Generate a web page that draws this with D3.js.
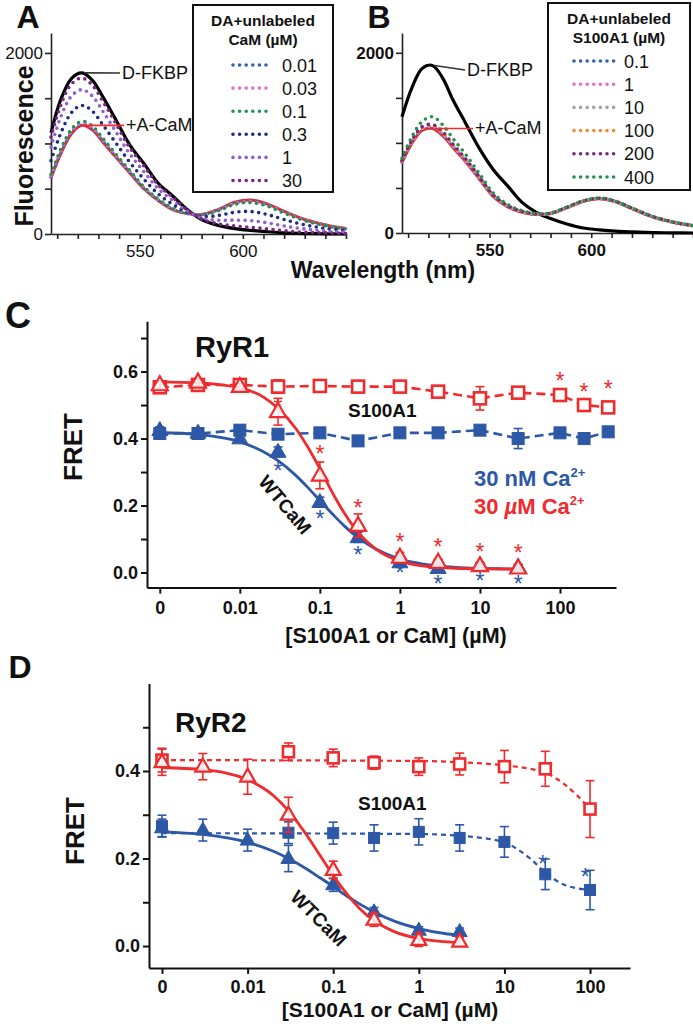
<!DOCTYPE html>
<html><head><meta charset="utf-8">
<script src="https://cdn.jsdelivr.net/npm/d3@7"></script>
<style>body{margin:0;background:#fff}svg{display:block;font-family:"Liberation Sans",Arial,Helvetica,sans-serif}</style>
</head><body><svg id="c" width="693" height="1026"></svg>
<script>
// ---------------- DATA ----------------
const WL = [507,512,517,522,527,532,538,545,552,559,566,573,580,588,596,604,612,620,630,640,650];
// Panel A
const A_DFKBP = [1120,1500,1720,1780,1700,1520,1280,990,780,560,420,270,160,95,60,40,25,12,5,2,0];
const A_ACAM  = [620,900,1110,1200,1150,1020,860,680,500,370,270,225,215,270,350,375,330,250,160,100,60];
const A_LABELS = ["0.01","0.03","0.1","0.3","1","30"];
const A_C001 = [630,912,1122,1212,1161,1030,868,686,506,374,273,226,214,266,344,368,324,245,157,98,59];
const A_C003 = [645,930,1140,1229,1178,1045,881,696,514,380,278,227,212,261,336,358,315,238,152,95,57];
const A_C01  = [660,948,1159,1246,1194,1060,894,705,522,385,282,229,211,256,327,348,306,231,148,92,55];
const A_C03  = [810,1128,1342,1420,1359,1210,1020,798,606,442,327,242,194,204,240,248,214,160,101,63,37];
const A_C1   = [960,1308,1525,1594,1524,1360,1146,891,690,499,372,256,178,151,153,147,123,88,55,33,19];
const A_C30  = [1070,1440,1659,1722,1645,1470,1238,959,752,541,405,265,166,113,89,74,56,36,19,12,6];
// Panel B
const B_DFKBP = [1290,1620,1830,1860,1720,1480,1230,940,700,520,340,230,160,100,55,35,20,12,5,2,0];
const B_ACAM  = [780,1000,1140,1160,1080,950,800,600,400,290,230,205,215,280,350,380,345,270,180,120,80];
const B_LABELS = ["0.1","1","10","100","200","400"];
const B_S01  = [785,1008,1150,1172,1092,960,808,606,405,294,233,207,216,281,352,382,347,272,181,121,80];
const B_S1   = [790,1015,1158,1180,1100,966,813,610,408,296,235,208,217,282,353,383,348,273,182,122,81];
const B_S10  = [795,1020,1165,1188,1107,972,818,614,411,298,236,209,218,283,354,384,349,274,183,122,81];
const B_S100 = [800,1028,1172,1196,1115,978,823,618,414,300,238,210,218,284,355,385,350,275,183,123,82];
const B_S200 = [805,1035,1182,1205,1124,986,830,623,418,302,240,211,219,285,356,386,351,276,184,123,82];
const B_S400 = [830,1075,1240,1290,1200,1050,880,660,440,315,248,215,221,287,358,388,353,278,185,124,82];

// Panel C (RyR1) ; concentration 0 is plotted at the "0" tick
const C_S_CONC = [0,0.003,0.01,0.03,0.1,0.3,1,3,10,30,100,200,400];
const C_S_RED  = [0.553,0.56,0.56,0.555,0.557,0.555,0.555,0.54,0.52,0.537,0.53,0.50,0.493];
const C_S_RED_ERR = [0.015,0.008,0.01,0.02,0.008,0.008,0.008,0.008,0.035,0.008,0.008,0.008,0.008];
const C_S_BLUE = [0.415,0.415,0.425,0.413,0.417,0.393,0.417,0.417,0.425,0.40,0.417,0.40,0.42];
const C_S_BLUE_ERR = [0.01,0.01,0.015,0.01,0.01,0.015,0.01,0.01,0.01,0.03,0.01,0.01,0.01];
const C_CAM_CONC = [0,0.003,0.01,0.03,0.1,0.3,1,3,10,30];
const C_CAM_BLUE = [0.425,0.417,0.40,0.36,0.21,0.105,0.03,0.013,0.02,0.017];
const C_CAM_BLUE_ERR = [0.01,0.008,0.01,0.015,0.015,0.015,0.01,0.008,0.008,0.008];
const C_CAM_RED = [0.56,0.568,0.555,0.48,0.29,0.14,0.045,0.03,0.02,0.013];
const C_CAM_RED_ERR = [0.01,0.01,0.01,0.04,0.04,0.035,0.015,0.01,0.01,0.01];
const C_FIT_CONC = [0.001,0.003,0.01,0.02,0.03,0.05,0.07,0.1,0.15,0.2,0.3,0.5,1,2,3,5,10,20,30];
const C_FIT_BLUE = [0.418,0.412,0.39,0.36,0.334,0.29,0.255,0.215,0.17,0.14,0.104,0.07,0.04,0.025,0.0195,0.0155,0.0126,0.011,0.0105];
const C_FIT_RED  = [0.569,0.566,0.551,0.523,0.49,0.43,0.376,0.31,0.23,0.179,0.12,0.07,0.034,0.0195,0.0155,0.0127,0.011,0.0105,0.0103];
// significance stars: [conc, FRET level]
const C_STAR_RED  = [[0.03,0.509],[0.1,0.366],[0.3,0.2075],[1,0.106],[3,0.091],[10,0.076],[30,0.073],[100,0.584],[200,0.551],[400,0.56]];
const C_STAR_BLUE = [[0.03,0.318],[0.1,0.172],[0.3,0.067],[1,0.013],[3,-0.022],[10,-0.013],[30,-0.022]];

// Panel D (RyR2)
const D_S_CONC = [0,0.03,0.1,0.3,1,3,10,30,100];
const D_S_RED  = [0.425,0.444,0.43,0.419,0.41,0.416,0.41,0.405,0.313];
const D_S_RED_ERR = [0.027,0.02,0.02,0.015,0.02,0.025,0.037,0.04,0.065];
const D_S_BLUE = [0.274,0.259,0.258,0.247,0.261,0.247,0.238,0.164,0.128];
const D_S_BLUE_ERR = [0.025,0.025,0.025,0.03,0.03,0.03,0.035,0.035,0.045];
const D_CAM_CONC = [0,0.003,0.01,0.03,0.1,0.3,1,3];
const D_CAM_BLUE = [0.27,0.265,0.242,0.20,0.14,0.078,0.036,0.033];
const D_CAM_BLUE_ERR = [0.02,0.025,0.025,0.03,0.015,0.01,0.008,0.008];
const D_CAM_RED = [0.42,0.41,0.387,0.30,0.174,0.06,0.014,0.01];
const D_CAM_RED_ERR = [0.03,0.03,0.04,0.04,0.02,0.015,0.015,0.01];
const D_FIT_CONC = [0.001,0.003,0.01,0.02,0.03,0.05,0.07,0.1,0.15,0.2,0.3,0.5,1,2,3];
const D_FIT_RED  = [0.408,0.403,0.38,0.344,0.309,0.251,0.2075,0.161,0.115,0.087,0.058,0.034,0.017,0.010,0.008];
const D_FIT_BLUE = [0.261,0.255,0.237,0.2165,0.20,0.175,0.156,0.136,0.112,0.097,0.078,0.058,0.04,0.0286,0.0245];
const D_SFIT_RED_CONC = [0.001,1,3,10,20,30,50,70,100];
const D_SFIT_RED = [0.425,0.423,0.42,0.413,0.405,0.396,0.37,0.345,0.313];
const D_SFIT_BLUE_CONC = [0.001,1,3,10,15,20,30,50,70,100];
const D_SFIT_BLUE = [0.258,0.256,0.252,0.237,0.218,0.2,0.168,0.14,0.132,0.128];
const D_STAR_BLUE = [[28,0.197],[88,0.167]];

const CONC_TICKS = [0.001,0.01,0.1,1,10,100];
const CONC_TICK_LABELS = ["0","0.01","0.1","1","10","100"];

// ---------------- STYLE ----------------
const RED = "#ef2b2d", BLUE = "#2d58a6";
const A_COLORS = ["#3161b5","#e46fc6","#1d9350","#1e2b7e","#8c62cc","#7b2282"];
const B_COLORS = ["#3161b5","#e46fc6","#a3a3a3","#f28a2a","#7b2282","#1d9350"];
const svg = d3.select("#c");
const FONT = '"Liberation Sans", Arial, sans-serif';

function txt(x, y, s, opt = {}) {
  const t = svg.append("text").attr("x", x).attr("y", y).text(s)
    .attr("font-size", opt.size || 16).attr("font-weight", opt.bold ? "bold" : "normal")
    .attr("fill", opt.fill || "#111").attr("text-anchor", opt.anchor || "start");
  if (opt.rotate !== undefined) t.attr("transform", `rotate(${opt.rotate},${x},${y})`);
  return t;
}

// ---------------- SPECTRA PANELS ----------------
function spectra(cfg) {
  const x = d3.scaleLinear().domain([507, 650]).range(cfg.xr);
  const y = d3.scaleLinear().domain([0, 2220]).range(cfg.yr);
  const g = svg.append("g");
  const line = d3.line().x((d, i) => x(WL[i])).y(d => y(d)).curve(d3.curveCatmullRom.alpha(0.5));
  const ay = g.append("g").attr("transform", `translate(${cfg.xr[0]},0)`)
    .call(d3.axisLeft(y).tickValues([0, 500, 1000, 1500, 2000]).tickSizeInner(6).tickSizeOuter(0).tickPadding(2)
      .tickFormat(d => (d === 0 || d === 2000) ? d : ""));
  const ax = g.append("g").attr("transform", `translate(0,${cfg.yr[0]})`)
    .call(d3.axisBottom(x).tickValues(d3.range(510, 651, 10)).tickSizeInner(5).tickSizeOuter(0).tickPadding(6)
      .tickFormat(d => (d === 550 || d === 600) ? d : ""));
  [ay, ax].forEach(a => {
    a.selectAll("path,line").attr("stroke", "#222").attr("stroke-width", 1.6);
    a.selectAll("text").attr("font-size", 17).attr("font-family", FONT)
      .attr("font-weight", cfg.boldTicks ? "bold" : "normal").attr("fill", "#111");
  });
  g.append("path").attr("d", line(cfg.donor)).attr("fill", "none").attr("stroke", "#000").attr("stroke-width", 3.2);
  g.append("path").attr("d", line(cfg.acam)).attr("fill", "none").attr("stroke", RED).attr("stroke-width", 3);
  cfg.series.forEach((s, i) => {
    g.append("path").attr("d", line(s)).attr("fill", "none").attr("stroke", cfg.colors[i])
      .attr("stroke-width", 3.6).attr("stroke-linecap", "round").attr("stroke-dasharray", "0 6.6");
  });
  const pk = d3.maxIndex(cfg.donor), pa = d3.maxIndex(cfg.acam);
  g.append("line").attr("x1", x(WL[pk]) + 2).attr("y1", y(cfg.donor[pk]))
    .attr("x2", cfg.dLab[0] - 2).attr("y2", cfg.dLab[1] - 6).attr("stroke", "#333").attr("stroke-width", 1.6);
  txt(cfg.dLab[0], cfg.dLab[1], "D-FKBP", { size: 18 });
  g.append("line").attr("x1", x(WL[pa]) + 2).attr("y1", y(cfg.acam[pa]))
    .attr("x2", cfg.aLab[0] - 2).attr("y2", y(cfg.acam[pa])).attr("stroke", RED).attr("stroke-width", 1.6);
  txt(cfg.aLab[0], cfg.aLab[1], "+A-CaM", { size: 18 });
  const L = cfg.legend;
  svg.append("rect").attr("x", L.x).attr("y", L.y).attr("width", L.w).attr("height", L.h)
    .attr("fill", "#fff").attr("stroke", "#111").attr("stroke-width", 2);
  txt(L.x + L.w / 2, L.y + 21, "DA+unlabeled", { size: 15.5, bold: true, anchor: "middle" });
  txt(L.x + L.w / 2, L.y + 40, L.title2, { size: 15.5, bold: true, anchor: "middle" });
  cfg.labels.forEach((lab, i) => {
    const yy = L.y0 + i * L.dy;
    svg.append("line").attr("x1", L.lx0).attr("x2", L.lx1).attr("y1", yy).attr("y2", yy)
      .attr("stroke", cfg.colors[i]).attr("stroke-width", 3.6).attr("stroke-linecap", "round").attr("stroke-dasharray", "0 6.6");
    txt(L.tx, yy + 6.5, lab, { size: 18 });
  });
}

spectra({
  xr: [51, 346], yr: [234, 33], donor: A_DFKBP, acam: A_ACAM,
  series: [A_C001, A_C003, A_C01, A_C03, A_C1, A_C30], colors: A_COLORS, labels: A_LABELS,
  dLab: [122, 79], aLab: [126, 131], boldTicks: false,
  legend: { x: 193, y: 5, w: 140, h: 187, title2: "CaM (µM)", y0: 65, dy: 23.1, lx0: 233, lx1: 272, tx: 282 }
});
spectra({
  xr: [402, 693], yr: [233, 33], donor: B_DFKBP, acam: B_ACAM,
  series: [B_S01, B_S1, B_S10, B_S100, B_S200, B_S400], colors: B_COLORS, labels: B_LABELS,
  dLab: [467, 76], aLab: [475, 134], boldTicks: true,
  legend: { x: 548, y: 3, w: 142, h: 187, title2: "S100A1 (µM)", y0: 61, dy: 23.2, lx0: 574, lx1: 614, tx: 624 }
});
txt(28, 28, "A", { size: 32, bold: true, anchor: "middle" });
txt(379, 28, "B", { size: 32, bold: true, anchor: "middle" });
txt(33, 146, "Fluorescence", { size: 25, bold: true, anchor: "middle", rotate: -90 });
txt(383, 278, "Wavelength (nm)", { size: 23, bold: true, anchor: "middle" });

// ---------------- FRET PANELS ----------------
function fretPanel(cfg) {
  const x = d3.scaleLog().domain(cfg.xd).range(cfg.xr);
  const y = d3.scaleLinear().domain(cfg.yd).range(cfg.yr);
  const cx = c => x(c === 0 ? 0.001 : c);
  const g = svg.append("g");
  const ay = g.append("g").attr("transform", `translate(${cfg.xr[0]},0)`)
    .call(d3.axisLeft(y).tickValues(cfg.yTicks).tickSizeInner(6).tickSizeOuter(0).tickPadding(3)
      .tickFormat(d => cfg.yLabels.includes(d) ? d.toFixed(1) : ""));
  const ax = g.append("g").attr("transform", `translate(0,${cfg.yr[0]})`)
    .call(d3.axisBottom(x).tickValues(CONC_TICKS).tickSizeInner(6).tickSizeOuter(0).tickPadding(cfg.xPad)
      .tickFormat((d, i) => CONC_TICK_LABELS[i]));
  [ay, ax].forEach(a => {
    a.selectAll("path,line").attr("stroke", "#111").attr("stroke-width", 2);
    a.selectAll("text").attr("font-size", 18).attr("font-weight", "bold").attr("font-family", FONT).attr("fill", "#111");
  });
  const lin = d3.line().x(d => cx(d[0])).y(d => y(d[1]));
  const smooth = d3.line().x(d => cx(d[0])).y(d => y(d[1])).curve(d3.curveMonotoneX);
  cfg.sLines.forEach(s => {
    g.append("path").attr("d", (s.smooth ? smooth : lin)(s.c.map((c, i) => [c, s.v[i]])))
      .attr("fill", "none").attr("stroke", s.color).attr("stroke-width", cfg.dashW).attr("stroke-dasharray", cfg.dash);
  });
  function errbars(conc, vals, errs, color) {
    conc.forEach((c, i) => {
      const xx = cx(c), y1 = y(vals[i] - errs[i]), y2 = y(vals[i] + errs[i]);
      g.append("line").attr("x1", xx).attr("x2", xx).attr("y1", y1).attr("y2", y2).attr("stroke", color).attr("stroke-width", 1.6);
      [y1, y2].forEach(yy => g.append("line").attr("x1", xx - 4.5).attr("x2", xx + 4.5).attr("y1", yy).attr("y2", yy)
        .attr("stroke", color).attr("stroke-width", 1.6));
    });
  }
  function squares(conc, vals, color, filled) {
    const s = cfg.sq;
    conc.forEach((c, i) => {
      g.append("rect").attr("x", cx(c) - s / 2).attr("y", y(vals[i]) - s / 2).attr("width", s).attr("height", s)
        .attr("fill", filled ? color : "#fff").attr("stroke", color).attr("stroke-width", filled ? 1 : 2.6);
    });
  }
  function triangles(conc, vals, color, filled) {
    const w = cfg.tw, h = cfg.th;
    conc.forEach((c, i) => {
      const X = cx(c), Y = y(vals[i]);
      g.append("path").attr("d", `M${X},${Y - h * 0.62}L${X + w / 2},${Y + h * 0.38}L${X - w / 2},${Y + h * 0.38}Z`)
        .attr("fill", filled ? color : "#fff").attr("fill-opacity", filled ? 1 : 0.85)
        .attr("stroke", color).attr("stroke-width", filled ? 1 : 2.2).attr("stroke-linejoin", "miter");
    });
  }
  errbars(cfg.sRed.c, cfg.sRed.v, cfg.sRed.e, RED);
  errbars(cfg.sBlue.c, cfg.sBlue.v, cfg.sBlue.e, BLUE);
  squares(cfg.sBlue.c, cfg.sBlue.v, BLUE, true);
  squares(cfg.sRed.c, cfg.sRed.v, RED, false);
  g.append("path").attr("d", smooth(cfg.fitC.map((c, i) => [c, cfg.fitBlue[i]]))).attr("fill", "none").attr("stroke", BLUE).attr("stroke-width", 2.8);
  errbars(cfg.cBlue.c, cfg.cBlue.v, cfg.cBlue.e, BLUE);
  triangles(cfg.cBlue.c, cfg.cBlue.v, BLUE, true);
  g.append("path").attr("d", smooth(cfg.fitC.map((c, i) => [c, cfg.fitRed[i]]))).attr("fill", "none").attr("stroke", RED).attr("stroke-width", 2.8);
  errbars(cfg.cRed.c, cfg.cRed.v, cfg.cRed.e, RED);
  triangles(cfg.cRed.c, cfg.cRed.v, RED, false);
  cfg.stars.forEach(st => st.pts.forEach(p => {
    g.append("text").attr("x", cx(p[0])).attr("y", y(p[1]) + 12.5).attr("text-anchor", "middle")
      .attr("font-size", 23).attr("fill", st.color).attr("font-family", FONT).text("*");
  }));
  return { x, y };
}

fretPanel({
  xd: [0.000692, 501], xr: [147, 616], yd: [-0.045, 0.75], yr: [587.6, 321.3],
  yTicks: [0, 0.1, 0.2, 0.3, 0.4, 0.5, 0.6, 0.7], yLabels: [0, 0.2, 0.4, 0.6], xPad: 8,
  dash: "9,5", dashW: 2.6, sq: 12, tw: 16, th: 14,
  sLines: [{ c: C_S_CONC, v: C_S_BLUE, color: BLUE }, { c: C_S_CONC, v: C_S_RED, color: RED }],
  sRed: { c: C_S_CONC, v: C_S_RED, e: C_S_RED_ERR }, sBlue: { c: C_S_CONC, v: C_S_BLUE, e: C_S_BLUE_ERR },
  cRed: { c: C_CAM_CONC, v: C_CAM_RED, e: C_CAM_RED_ERR }, cBlue: { c: C_CAM_CONC, v: C_CAM_BLUE, e: C_CAM_BLUE_ERR },
  fitC: C_FIT_CONC, fitRed: C_FIT_RED, fitBlue: C_FIT_BLUE,
  stars: [{ pts: C_STAR_RED, color: RED }, { pts: C_STAR_BLUE, color: BLUE }]
});
fretPanel({
  xd: [0.000705, 293], xr: [149, 630], yd: [-0.05, 0.6], yr: [967.9, 683.5],
  yTicks: [0, 0.1, 0.2, 0.3, 0.4, 0.5], yLabels: [0, 0.2, 0.4], xPad: 6,
  dash: "5,4", dashW: 2.2, sq: 11, tw: 15, th: 13,
  sLines: [{ c: D_SFIT_BLUE_CONC, v: D_SFIT_BLUE, color: BLUE, smooth: true }, { c: D_SFIT_RED_CONC, v: D_SFIT_RED, color: RED, smooth: true }],
  sRed: { c: D_S_CONC, v: D_S_RED, e: D_S_RED_ERR }, sBlue: { c: D_S_CONC, v: D_S_BLUE, e: D_S_BLUE_ERR },
  cRed: { c: D_CAM_CONC, v: D_CAM_RED, e: D_CAM_RED_ERR }, cBlue: { c: D_CAM_CONC, v: D_CAM_BLUE, e: D_CAM_BLUE_ERR },
  fitC: D_FIT_CONC, fitRed: D_FIT_RED, fitBlue: D_FIT_BLUE,
  stars: [{ pts: D_STAR_BLUE, color: BLUE }]
});

// panel texts
txt(18, 328, "C", { size: 36, bold: true, anchor: "middle" });
txt(20, 678, "D", { size: 32, bold: true, anchor: "middle" });
txt(195, 357, "RyR1", { size: 29, bold: true });
txt(175, 732, "RyR2", { size: 28, bold: true });
txt(82, 447, "FRET", { size: 26, bold: true, anchor: "middle", rotate: -90 });
txt(84, 831, "FRET", { size: 26, bold: true, anchor: "middle", rotate: -90 });
txt(396, 643, "[S100A1 or CaM] (µM)", { size: 21.5, bold: true, anchor: "middle" });
txt(390, 1017, "[S100A1 or CaM] (µM)", { size: 21, bold: true, anchor: "middle" });
txt(348, 417, "S100A1", { size: 19, bold: true });
txt(358, 810, "S100A1", { size: 19, bold: true });
txt(280, 509, "WTCaM", { size: 19, bold: true, anchor: "middle", rotate: 50 });
txt(314, 923, "WTCaM", { size: 19, bold: true, anchor: "middle", rotate: 45 });
const t1 = txt(474, 486, "30 nM Ca", { size: 22, bold: true, fill: BLUE });
t1.append("tspan").attr("dy", -9).attr("font-size", 13).text("2+");
const t2 = txt(474, 514, "30 ", { size: 22, bold: true, fill: RED });
t2.append("tspan").attr("font-style", "italic").text("µ");
t2.append("tspan").text("M Ca");
t2.append("tspan").attr("dy", -9).attr("font-size", 13).text("2+");
</script></body></html>
